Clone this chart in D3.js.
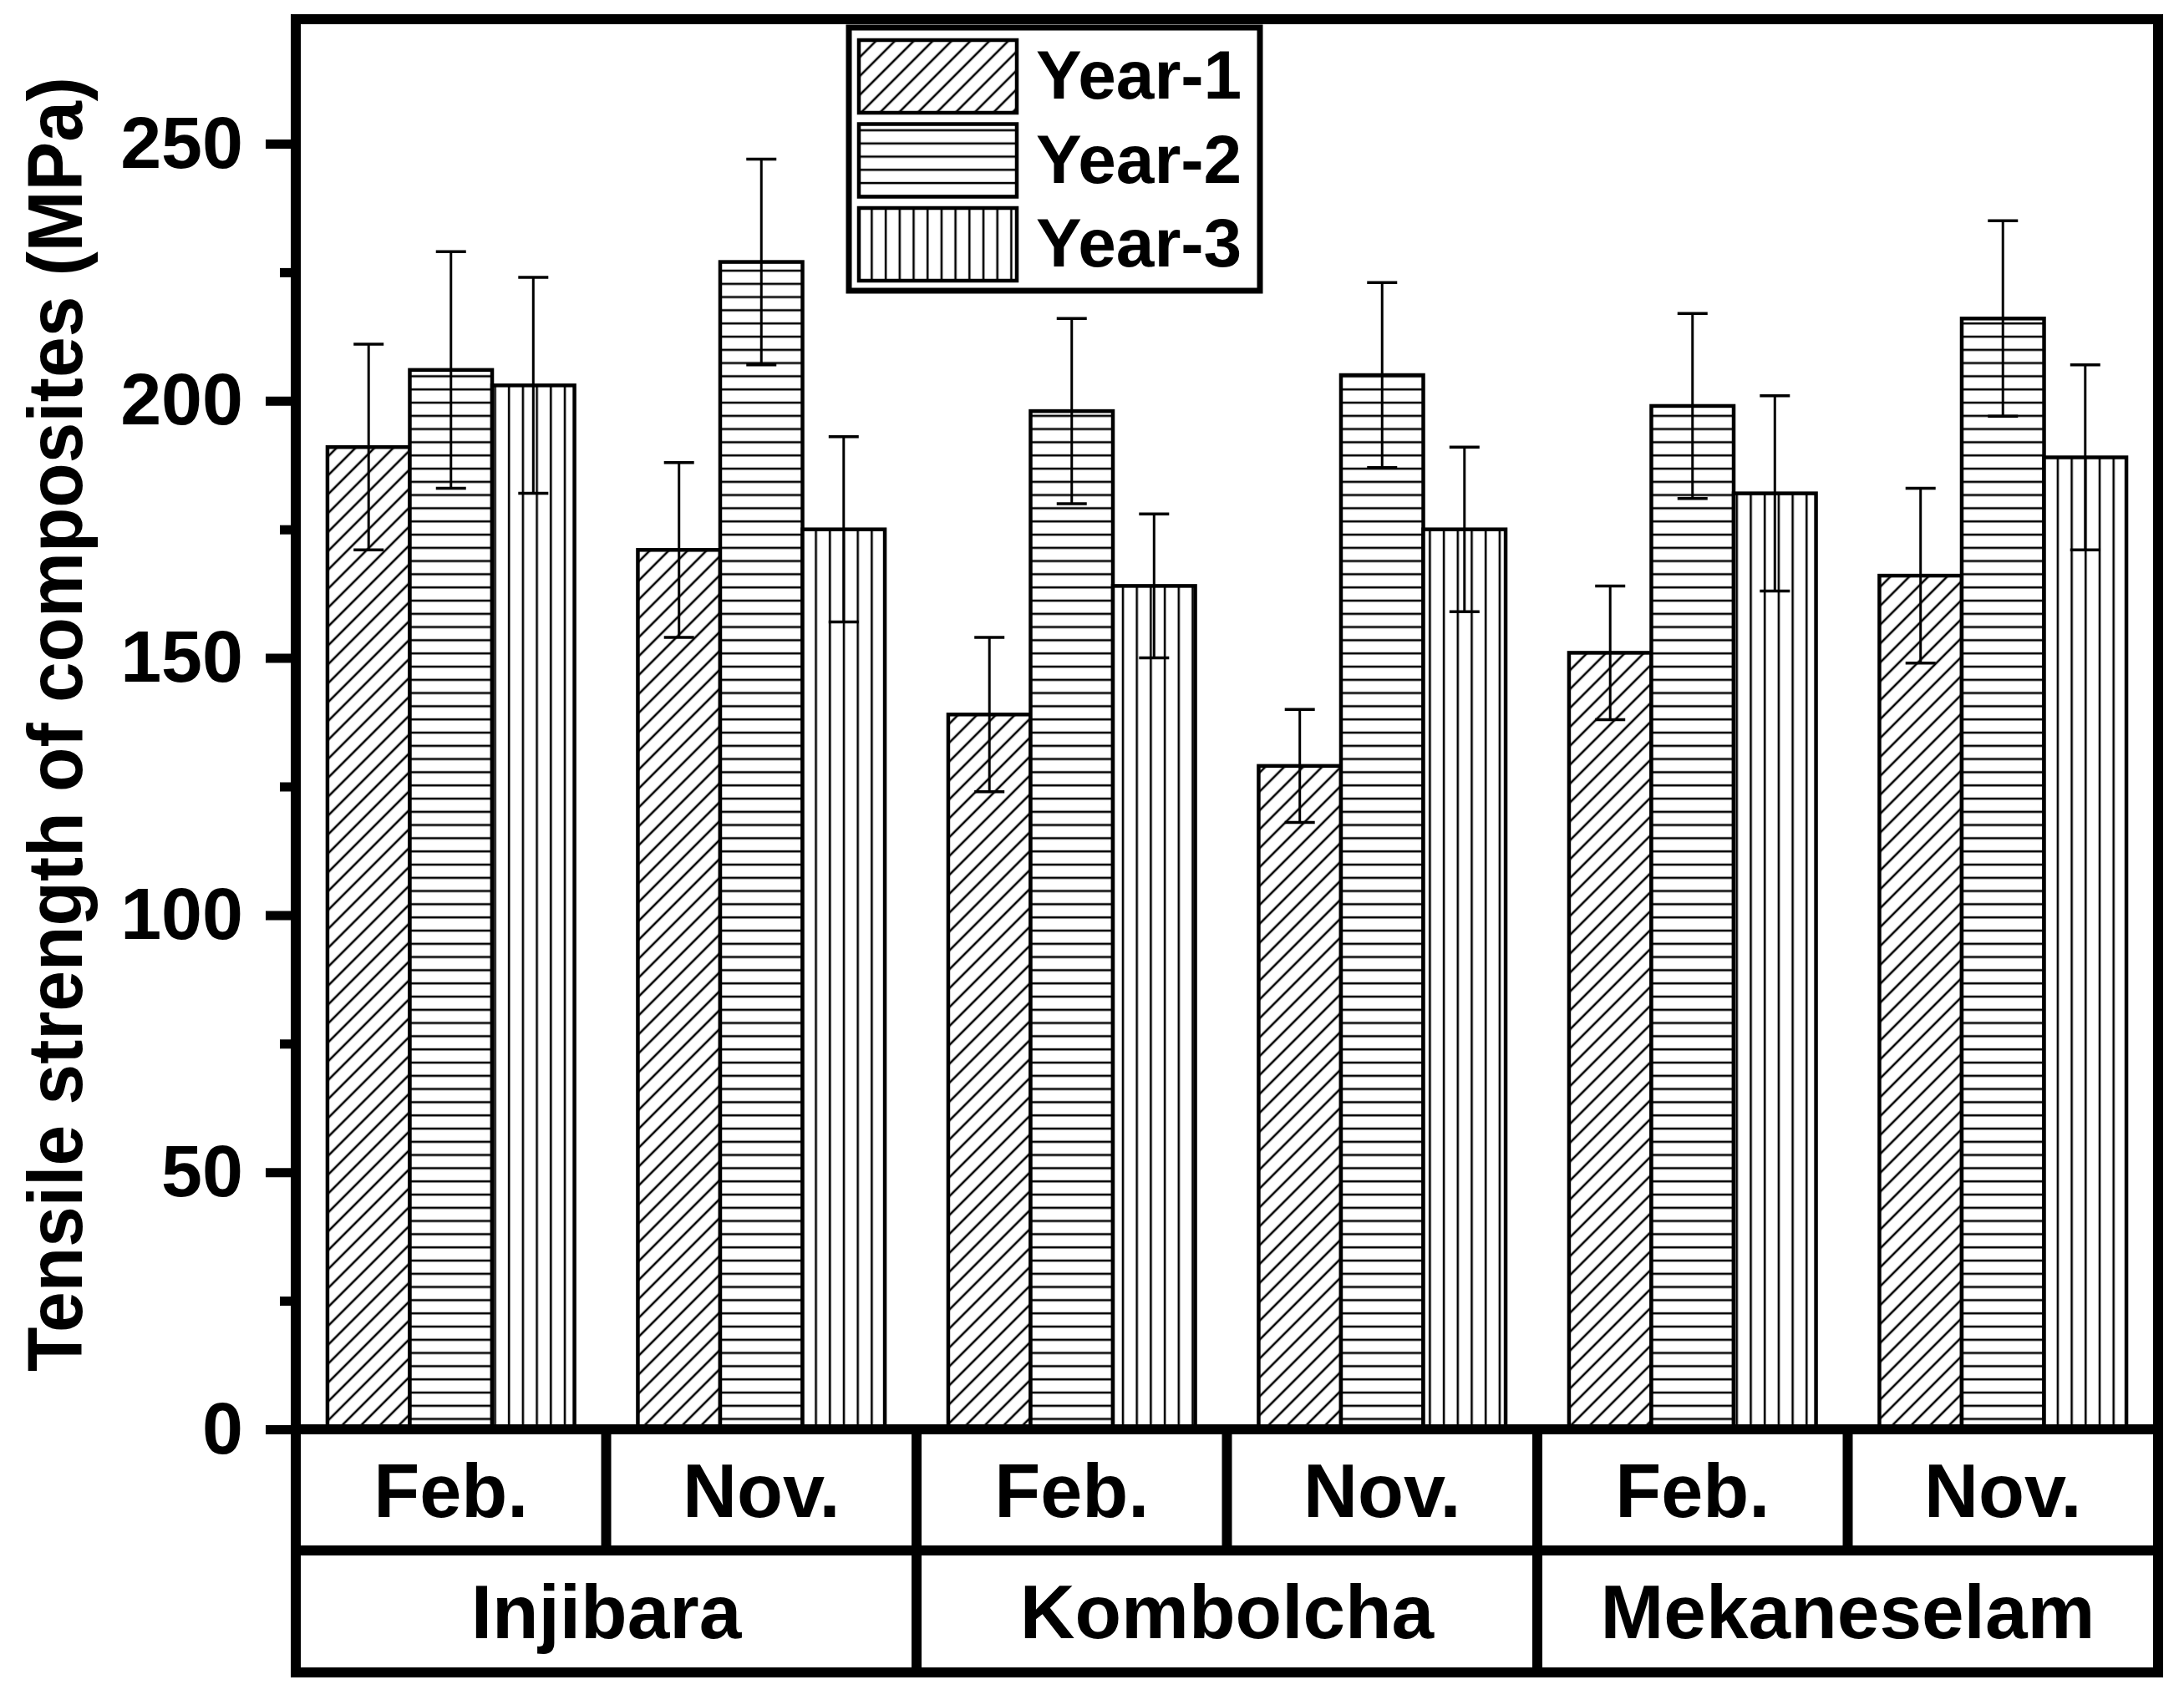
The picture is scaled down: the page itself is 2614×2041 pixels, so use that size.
<!DOCTYPE html>
<html>
<head>
<meta charset="utf-8">
<script src="https://cdn.jsdelivr.net/npm/d3@7"></script>
<style>
    body { margin: 0; background: #fff; }
    text { font-family: "Liberation Sans", Arial, sans-serif; font-weight: bold; fill: #000; }
</style>
</head>
<body>
<div id="chart"></div>
<script>
"use strict";

// categories
const sites = ["Injibara", "Kombolcha", "Mekaneselam"];
const months = ["Feb.", "Nov."];
const years = ["Year-1", "Year-2", "Year-3"];

// tensile strength (MPa), one value per site/month cell
const year1 = [191, 171, 139, 129, 151, 166];
const year1Err = [20, 17, 15, 11, 13, 17];
const year2 = [206, 227, 198, 205, 199, 216];
const year2Err = [23, 20, 18, 18, 18, 19];
const year3 = [203, 175, 164, 175, 182, 189];
const year3Err = [21, 18, 14, 16, 19, 18];

// axis ticks
const majorTicks = [0, 50, 100, 150, 200, 250];
const minorTicks = [25, 75, 125, 175, 225];

const width = 2614, height = 2041;
const plot = { left: 354, right: 2583, top: 23, bottom: 1711 };
const rowBottom1 = 1856, rowBottom2 = 2002;

// build the cells (site x month) from the arrays
var cells = [];
sites.forEach(function (s) {
    months.forEach(function (m) {
        cells.push({ site: s, month: m, key: s + "|" + m });
    });
});
const series = [
    { name: years[0], values: year1, errs: year1Err, pattern: "hatchDiag" },
    { name: years[1], values: year2, errs: year2Err, pattern: "hatchHoriz" },
    { name: years[2], values: year3, errs: year3Err, pattern: "hatchVert" }
];

const svg = d3.select("#chart").append("svg")
    .attr("width", width)
    .attr("height", height);

svg.append("rect").attr("width", width).attr("height", height).attr("fill", "#fff");

// hatch patterns
const defs = svg.append("defs");
function makePattern(id, w, h, transform, x1, y1, x2, y2) {
    var p = defs.append("pattern")
        .attr("id", id)
        .attr("patternUnits", "userSpaceOnUse")
        .attr("width", w)
        .attr("height", h);
    if (transform) p.attr("patternTransform", transform);
    p.append("rect").attr("width", w).attr("height", h).attr("fill", "#fff");
    p.append("line")
        .attr("x1", x1).attr("y1", y1).attr("x2", x2).attr("y2", y2)
        .attr("stroke", "#000").attr("stroke-width", 2.6);
}
makePattern("hatchDiag", 16, 16, "rotate(45)", 8, -1, 8, 17);
makePattern("hatchHoriz", 16, 15.8, null, -1, 8, 17, 8);
makePattern("hatchVert", 16.7, 16, null, 8, -1, 8, 17);

// scales
const x0 = d3.scaleBand()
    .domain(cells.map(c => c.key))
    .range([plot.left, plot.right])
    .padding(0);

const x1 = d3.scaleBand()
    .domain(years)
    .range([0, x0.bandwidth()])
    .paddingInner(0)
    .paddingOuter(0.385);

const y = d3.scaleLinear()
    .domain([0, 274.2])
    .range([plot.bottom, plot.top]);

// bars
const barGroups = svg.append("g").selectAll("g")
    .data(series)
    .enter()
    .append("g");

barGroups.selectAll("rect")
    .data(s => s.values.map((v, i) => ({ s: s, v: v, e: s.errs[i], cell: cells[i] })))
    .enter()
    .append("rect")
    .attr("x", d => x0(d.cell.key) + x1(d.s.name))
    .attr("y", d => y(d.v))
    .attr("width", x1.bandwidth())
    .attr("height", d => y(0) - y(d.v))
    .attr("fill", d => "url(#" + d.s.pattern + ")")
    .attr("stroke", "#000")
    .attr("stroke-width", 4.5);

// error bars
const capW = 36;
barGroups.each(function (s) {
    var g = d3.select(this).append("g");
    s.values.forEach(function (v, i) {
        var cx = x0(cells[i].key) + x1(s.name) + x1.bandwidth() / 2;
        var top = y(v + s.errs[i]), bot = y(v - s.errs[i]);
        g.append("line").attr("x1", cx).attr("x2", cx).attr("y1", top).attr("y2", bot)
            .attr("stroke", "#000").attr("stroke-width", 3);
        g.append("line").attr("x1", cx - capW / 2).attr("x2", cx + capW / 2).attr("y1", top).attr("y2", top)
            .attr("stroke", "#000").attr("stroke-width", 3.5);
        g.append("line").attr("x1", cx - capW / 2).attr("x2", cx + capW / 2).attr("y1", bot).attr("y2", bot)
            .attr("stroke", "#000").attr("stroke-width", 3.5);
    });
});

// y axis ticks (major + minor), outward
const yAxis = svg.append("g")
    .attr("transform", "translate(" + plot.left + ",0)")
    .call(d3.axisLeft(y).tickValues(majorTicks).tickSize(36).tickPadding(27).tickSizeOuter(0));
yAxis.select(".domain").remove();
yAxis.selectAll(".tick line").attr("stroke", "#000").attr("stroke-width", 11);
yAxis.selectAll(".tick text")
    .style("font-size", "88px")
    .style("font-family", "'Liberation Sans', Arial, sans-serif")
    .style("font-weight", "bold")
    .attr("fill", "#000");

const yMinor = svg.append("g")
    .attr("transform", "translate(" + plot.left + ",0)")
    .call(d3.axisLeft(y).tickValues(minorTicks).tickSize(19).tickFormat("").tickSizeOuter(0));
yMinor.select(".domain").remove();
yMinor.selectAll(".tick line").attr("stroke", "#000").attr("stroke-width", 11);

// y axis title
svg.append("text")
    .attr("transform", "translate(98," + 867 + ") rotate(-90)")
    .attr("text-anchor", "middle")
    .attr("textLength", 1550)
    .attr("lengthAdjust", "spacingAndGlyphs")
    .style("font-size", "92px")
    .text("Tensile strength of composites (MPa)");

// frame + category table lines
const lw = 12;
function hLine(xa, xb, yy) {
    svg.append("line").attr("x1", xa).attr("x2", xb).attr("y1", yy).attr("y2", yy)
        .attr("stroke", "#000").attr("stroke-width", lw).attr("stroke-linecap", "square");
}
function vLine(xx, ya, yb) {
    svg.append("line").attr("x1", xx).attr("x2", xx).attr("y1", ya).attr("y2", yb)
        .attr("stroke", "#000").attr("stroke-width", lw).attr("stroke-linecap", "square");
}
hLine(plot.left, plot.right, plot.top);
hLine(plot.left, plot.right, plot.bottom);
hLine(plot.left, plot.right, rowBottom1);
hLine(plot.left, plot.right, rowBottom2);
vLine(plot.left, plot.top, rowBottom2);
vLine(plot.right, plot.top, rowBottom2);

// month cells
cells.forEach(function (c, i) {
    if (i > 0) {
        var bx = x0(c.key);
        var spansBoth = (i % months.length === 0);
        vLine(bx, plot.bottom, spansBoth ? rowBottom2 : rowBottom1);
    }
});
svg.append("g").selectAll("text")
    .data(cells)
    .enter()
    .append("text")
    .attr("x", d => x0(d.key) + x0.bandwidth() / 2)
    .attr("y", (plot.bottom + rowBottom1) / 2 + 32)
    .attr("text-anchor", "middle")
    .style("font-size", "90px")
    .text(d => d.month);

// site cells
svg.append("g").selectAll("text")
    .data(sites)
    .enter()
    .append("text")
    .attr("x", (d, i) => x0(cells[i * 2].key) + x0.bandwidth())
    .attr("y", (rowBottom1 + rowBottom2) / 2 + 32)
    .attr("text-anchor", "middle")
    .style("font-size", "91px")
    .text(d => d);

// legend
const legend = svg.append("g");
legend.append("rect")
    .attr("x", 1016).attr("y", 33).attr("width", 492).attr("height", 315)
    .attr("fill", "#fff").attr("stroke", "#000").attr("stroke-width", 7);
const leg = legend.selectAll("g")
    .data(series)
    .enter()
    .append("g")
    .attr("transform", (d, i) => "translate(0," + (i * 100.5) + ")");
leg.append("rect")
    .attr("x", 1028).attr("y", 48).attr("width", 189).attr("height", 87)
    .attr("fill", d => "url(#" + d.pattern + ")")
    .attr("stroke", "#000").attr("stroke-width", 4.5);
leg.append("text")
    .attr("x", 1240).attr("y", 118)
    .style("font-size", "82px")
    .text(d => d.name);
</script>
</body>
</html>
